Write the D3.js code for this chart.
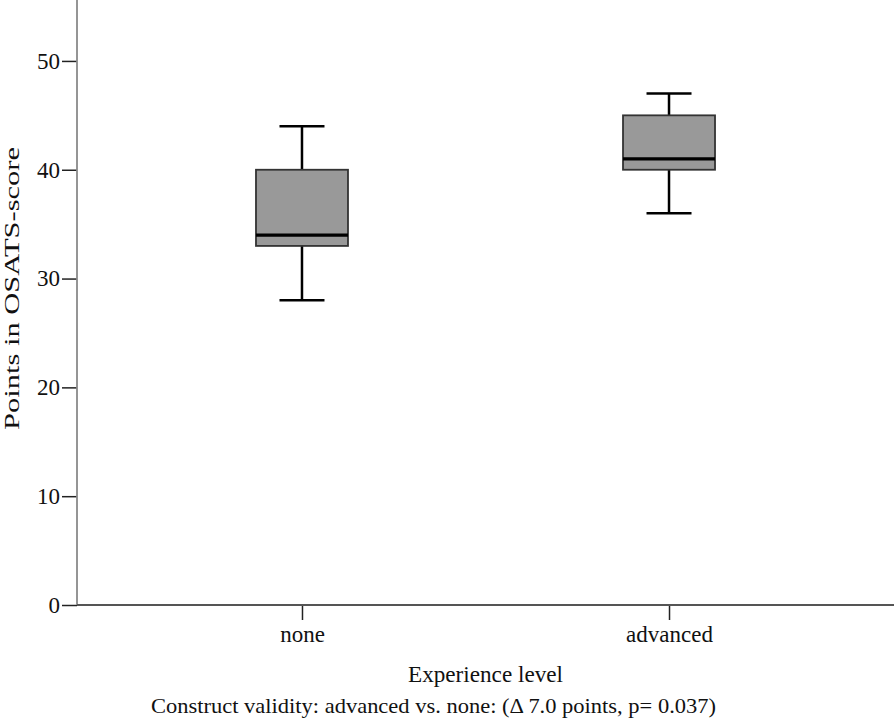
<!DOCTYPE html>
<html>
<head>
<meta charset="utf-8">
<script src="https://cdn.jsdelivr.net/npm/d3@7/dist/d3.min.js"></script>
<style>
  html, body { margin: 0; padding: 0; background: #fff; }
  svg { display: block; }
  text { font-family: "Liberation Serif", "Times New Roman", serif; fill: #111; }
</style>
</head>
<body>
<svg id="chart" width="894" height="722"></svg>
<script>
// ---- Data ----
const categories = ["none", "advanced"];
const whiskerLow  = [28, 36];
const q1          = [33, 40];
const median      = [34, 41];
const q3          = [40, 45];
const whiskerHigh = [44, 47];
const yTicks = [0, 10, 20, 30, 40, 50];
const xTitle = "Experience level";
const yTitle = "Points in OSATS-score";
const caption = "Construct validity: advanced vs. none: (\u0394 7.0 points, p= 0.037)";

// ---- Layout ----
const M = { left: 77, right: 894, top: 0, bottom: 605 };

const svg = d3.select("#chart");

const y = d3.scaleLinear().domain([0, 55.6]).range([M.bottom, M.top]);
const x = d3.scalePoint().domain(categories).range([M.left, M.right]).padding(0.613);

const boxW = 92, capW = 45;

// Y axis
const yAxis = svg.append("g").attr("transform", `translate(${M.left},0)`)
  .call(d3.axisLeft(y).tickValues(yTicks).tickSize(15).tickPadding(2).tickFormat(d3.format("d")));
yAxis.select(".domain").remove();
yAxis.selectAll(".tick line").attr("stroke", "#222").attr("stroke-width", 1.5);
yAxis.selectAll(".tick text").attr("font-size", 23).attr("fill", "#111")
  .attr("font-family", "'Liberation Serif', serif")
  .each(function(d){ d3.select(this).attr("textLength", String(d).length * 11.5).attr("lengthAdjust", "spacingAndGlyphs"); });
svg.append("line").attr("x1", M.left).attr("x2", M.left).attr("y1", M.top).attr("y2", M.bottom)
  .attr("stroke", "#8a8a8a").attr("stroke-width", 1.8);

// X axis
const xAxis = svg.append("g").attr("transform", `translate(0,${M.bottom})`)
  .call(d3.axisBottom(x).tickSize(15).tickPadding(9));
xAxis.select(".domain").remove();
xAxis.selectAll(".tick line").attr("stroke", "#222").attr("stroke-width", 1.5);
xAxis.selectAll(".tick text").attr("font-size", 23).attr("fill", "#111")
  .attr("font-family", "'Liberation Serif', serif")
  .attr("dy", "0.55em");
svg.append("line").attr("x1", M.left).attr("x2", M.right).attr("y1", M.bottom).attr("y2", M.bottom)
  .attr("stroke", "#555").attr("stroke-width", 1.8);

// Boxes
const data = categories.map((c, i) => ({c, lo: whiskerLow[i], q1: q1[i], med: median[i], q3: q3[i], hi: whiskerHigh[i]}));
const g = svg.append("g");
data.forEach(d => {
  const cx = x(d.c);
  g.append("line").attr("x1", cx).attr("x2", cx).attr("y1", y(d.hi)).attr("y2", y(d.q3))
    .attr("stroke", "#000").attr("stroke-width", 2.5);
  g.append("line").attr("x1", cx).attr("x2", cx).attr("y1", y(d.q1)).attr("y2", y(d.lo))
    .attr("stroke", "#000").attr("stroke-width", 2.5);
  g.append("line").attr("x1", cx - capW/2).attr("x2", cx + capW/2).attr("y1", y(d.hi)).attr("y2", y(d.hi))
    .attr("stroke", "#000").attr("stroke-width", 2.5);
  g.append("line").attr("x1", cx - capW/2).attr("x2", cx + capW/2).attr("y1", y(d.lo)).attr("y2", y(d.lo))
    .attr("stroke", "#000").attr("stroke-width", 2.5);
  g.append("rect").attr("x", cx - boxW/2).attr("y", y(d.q3)).attr("width", boxW).attr("height", y(d.q1) - y(d.q3))
    .attr("fill", "#999999").attr("stroke", "#333").attr("stroke-width", 1.8);
  g.append("line").attr("x1", cx - boxW/2).attr("x2", cx + boxW/2).attr("y1", y(d.med)).attr("y2", y(d.med))
    .attr("stroke", "#000").attr("stroke-width", 3.2);
});

// Titles
svg.append("text").attr("x", 485.5).attr("y", 682).attr("text-anchor", "middle")
  .attr("font-size", 24).attr("textLength", 155).attr("lengthAdjust", "spacingAndGlyphs").text(xTitle);
svg.append("text").attr("x", 433.5).attr("y", 713).attr("text-anchor", "middle")
  .attr("font-size", 22).attr("textLength", 565).attr("lengthAdjust", "spacingAndGlyphs").text(caption);
svg.append("text").attr("transform", `translate(19,288.5) rotate(-90)`).attr("text-anchor", "middle")
  .attr("font-size", 21).attr("textLength", 283).attr("lengthAdjust", "spacingAndGlyphs").text(yTitle);
</script>
</body>
</html>
